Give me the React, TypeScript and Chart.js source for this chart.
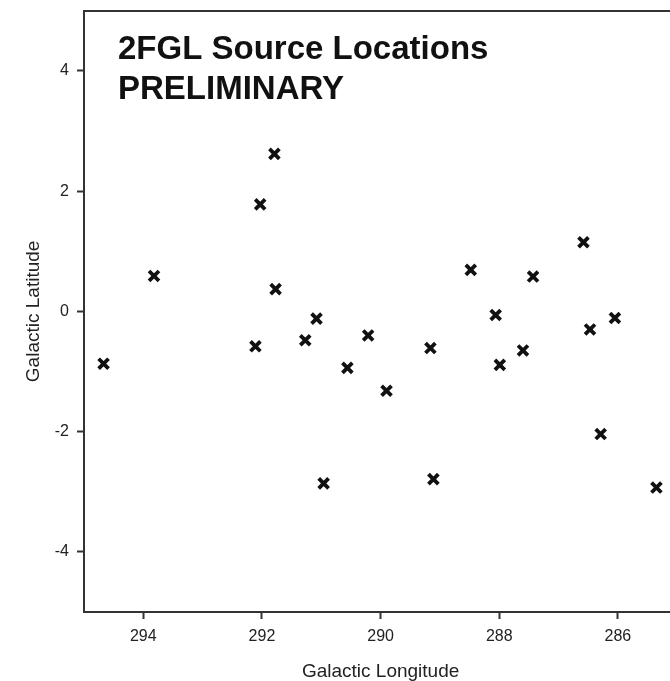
import React, { useEffect, useRef } from "react";
import { Chart, registerables } from "chart.js";

Chart.register(...registerables);

// Galactic longitude (deg) of each source
const longitudes = [
  294.67, 293.82, 292.03, 291.79, 291.77, 292.11, 291.27, 291.08, 290.96, 290.56,
  290.21, 289.9, 289.16, 289.11, 288.48, 288.06, 287.99, 287.6, 287.43, 286.58,
  286.47, 286.05, 286.29, 285.35,
];
// Galactic latitude (deg) of each source
const latitudes = [
  -0.87, 0.59, 1.78, 2.62, 0.37, -0.58, -0.48, -0.12, -2.86, -0.94,
  -0.4, -1.32, -0.61, -2.79, 0.69, -0.06, -0.89, -0.65, 0.58, 1.15,
  -0.3, -0.11, -2.04, -2.93,
];

const xTickValues = [294, 292, 290, 288, 286];
const yTickValues = [-4, -2, 0, 2, 4];
const titleLines = ["2FGL Source Locations", "PRELIMINARY"];
const xAxisTitle = "Galactic Longitude";
const yAxisTitle = "Galactic Latitude";

const FONT = '"Liberation Sans", Arial, Helvetica, sans-serif';

export default function App() {
  const ref = useRef<HTMLCanvasElement>(null);

  useEffect(() => {
    const canvas = ref.current;
    if (!canvas) return;

    const innerTitle = {
      id: "innerTitle",
      afterDatasetsDraw(chart: any) {
        const { ctx, chartArea } = chart;
        ctx.save();
        ctx.font = `bold 33px ${FONT}`;
        ctx.fillStyle = "#111";
        ctx.textAlign = "left";
        ctx.textBaseline = "alphabetic";
        titleLines.forEach((line, i) => {
          ctx.fillText(line, chartArea.left + 34, chartArea.top + 48 + i * 40);
        });
        ctx.restore();
      },
    };

    const chart = new Chart(canvas, {
      type: "scatter",
      data: {
        datasets: [
          {
            data: longitudes.map((x, i) => ({ x, y: latitudes[i] })),
            pointStyle: "crossRot",
            pointRadius: 7,
            pointHoverRadius: 7,
            borderWidth: 3.8,
            borderColor: "#111",
            backgroundColor: "#111",
          },
        ],
      },
      options: {
        responsive: false,
        animation: false,
        layout: { padding: { top: 9, left: 0, right: 0, bottom: 0 } },
        plugins: {
          legend: { display: false },
          tooltip: { enabled: false },
        },
        scales: {
          x: {
            type: "linear",
            position: "bottom",
            reverse: true,
            min: 285,
            max: 295,
            afterBuildTicks: (s: any) => {
              s.ticks = xTickValues.map((v) => ({ value: v }));
            },
            afterFit: (s: any) => {
              s.height = 69;
              s.paddingLeft = 0;
              s.paddingRight = 0;
            },
            grid: {
              drawOnChartArea: false,
              drawTicks: true,
              tickLength: 7,
              tickColor: "#333",
              tickWidth: 2,
            },
            border: { display: true, color: "#333", width: 2 },
            ticks: { padding: 8, color: "#222", font: { family: FONT, size: 16 } },
            title: {
              display: true,
              text: xAxisTitle,
              color: "#222",
              font: { family: FONT, size: 19, lineHeight: 1 },
              padding: { top: 0, bottom: 0 },
            },
          },
          xTop: {
            type: "linear",
            position: "top",
            reverse: true,
            min: 285,
            max: 295,
            ticks: { display: false },
            grid: { drawOnChartArea: false, drawTicks: false },
            border: { display: true, color: "#333", width: 2 },
            afterFit: (s: any) => {
              s.height = 0;
              s.paddingLeft = 0;
              s.paddingRight = 0;
            },
          },
          y: {
            type: "linear",
            position: "left",
            min: -5,
            max: 5,
            afterBuildTicks: (s: any) => {
              s.ticks = yTickValues.map((v) => ({ value: v }));
            },
            afterFit: (s: any) => {
              s.width = 84;
              s.paddingTop = 0;
              s.paddingBottom = 0;
            },
            grid: {
              drawOnChartArea: false,
              drawTicks: true,
              tickLength: 7,
              tickColor: "#333",
              tickWidth: 2,
            },
            border: { display: true, color: "#333", width: 2 },
            ticks: { padding: 8, color: "#222", font: { family: FONT, size: 16 } },
            title: {
              display: true,
              text: yAxisTitle,
              color: "#222",
              font: { family: FONT, size: 19, lineHeight: 1 },
              padding: { top: 24, bottom: 0 },
            },
          },
        },
      } as any,
      plugins: [innerTitle],
    });

    return () => chart.destroy();
  }, []);

  return (
    <div
      style={{
        position: "absolute",
        left: 0,
        top: 0,
        width: 670,
        height: 681,
        overflow: "hidden",
        background: "#fff",
      }}
    >
      <canvas ref={ref} width={688} height={681} style={{ display: "block" }} />
    </div>
  );
}
